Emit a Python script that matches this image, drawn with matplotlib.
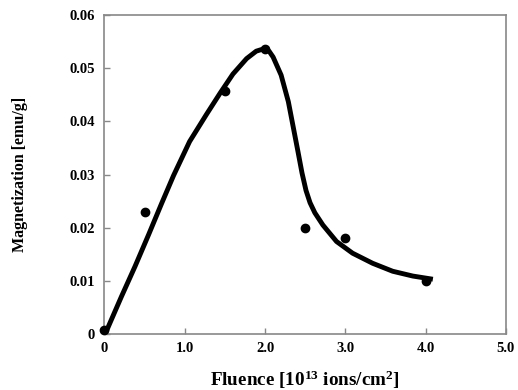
import matplotlib
matplotlib.use("Agg")
import matplotlib.pyplot as plt

# measured points
fluence = [0.0, 0.5, 1.5, 2.0, 2.5, 3.0, 4.0]
magnetization = [0.0007, 0.023, 0.0457, 0.0537, 0.0200, 0.0180, 0.0100]

# guide-to-the-eye curve
curve_x = [0.03, 0.21, 0.38, 0.55, 0.71, 0.86, 1.06, 1.27, 1.44, 1.60, 1.77, 1.89,
           1.996, 2.05, 2.10, 2.20, 2.29, 2.35, 2.41, 2.46, 2.51, 2.56, 2.62, 2.72,
           2.89, 3.09, 3.34, 3.59, 3.84, 4.09]
curve_y = [0.00075, 0.0070, 0.0127, 0.0187, 0.0245, 0.0298, 0.0362, 0.0413, 0.0453,
           0.0489, 0.0518, 0.0532, 0.0537, 0.0532, 0.0521, 0.0487, 0.0437, 0.0390,
           0.0343, 0.0303, 0.0270, 0.0247, 0.0228, 0.0205, 0.0174, 0.0152, 0.0133,
           0.0118, 0.0109, 0.0103]

xticks = [0, 1, 2, 3, 4, 5]
xtick_labels = ["0", "1.0", "2.0", "3.0", "4.0", "5.0"]
yticks = [0, 0.01, 0.02, 0.03, 0.04, 0.05, 0.06]
ytick_labels = ["0", "0.01", "0.02", "0.03", "0.04", "0.05", "0.06"]

plt.rcParams['font.family'] = ['Liberation Serif', 'DejaVu Serif']
plt.rcParams['font.weight'] = 'bold'
plt.rcParams['mathtext.fontset'] = 'custom'
plt.rcParams['mathtext.rm'] = 'Liberation Serif:bold'
plt.rcParams['mathtext.bf'] = 'Liberation Serif:bold'
plt.rcParams['mathtext.it'] = 'Liberation Serif:bold'

fig = plt.figure(figsize=(5.18, 3.90), dpi=100)
ax = fig.add_axes([0.2017, 0.1436, 0.775, 0.8179])

ax.plot(curve_x, curve_y, color='black', linewidth=3.5,
        solid_joinstyle='round', solid_capstyle='butt', zorder=2)
ax.plot(fluence, magnetization, 'o', color='black', markersize=6, zorder=3, clip_on=False)

ax.set_xlim(0, 5)
ax.set_ylim(0, 0.06)
ax.set_xticks(xticks)
ax.set_xticklabels(xtick_labels)
ax.set_yticks(yticks)
ax.set_yticklabels(ytick_labels)

for s in ax.spines.values():
    s.set_color('#888888')
    s.set_linewidth(1.2)
ax.tick_params(direction='in', length=4, width=1, color='#888888', labelsize=10.5)
ax.tick_params(axis='x', pad=6)
ax.tick_params(axis='y', pad=7)

ax.set_xlabel("Fluence [10$^{13}$ ions/cm$^{2}$]", fontsize=13.8, fontweight='bold')
ax.set_ylabel("Magnetization [emu/g]", fontsize=11.5, fontweight='bold')
ax.xaxis.set_label_coords(0.5, -0.108)
ax.yaxis.set_label_coords(-0.19, 0.5)

fig.savefig("out.png", dpi=100)
